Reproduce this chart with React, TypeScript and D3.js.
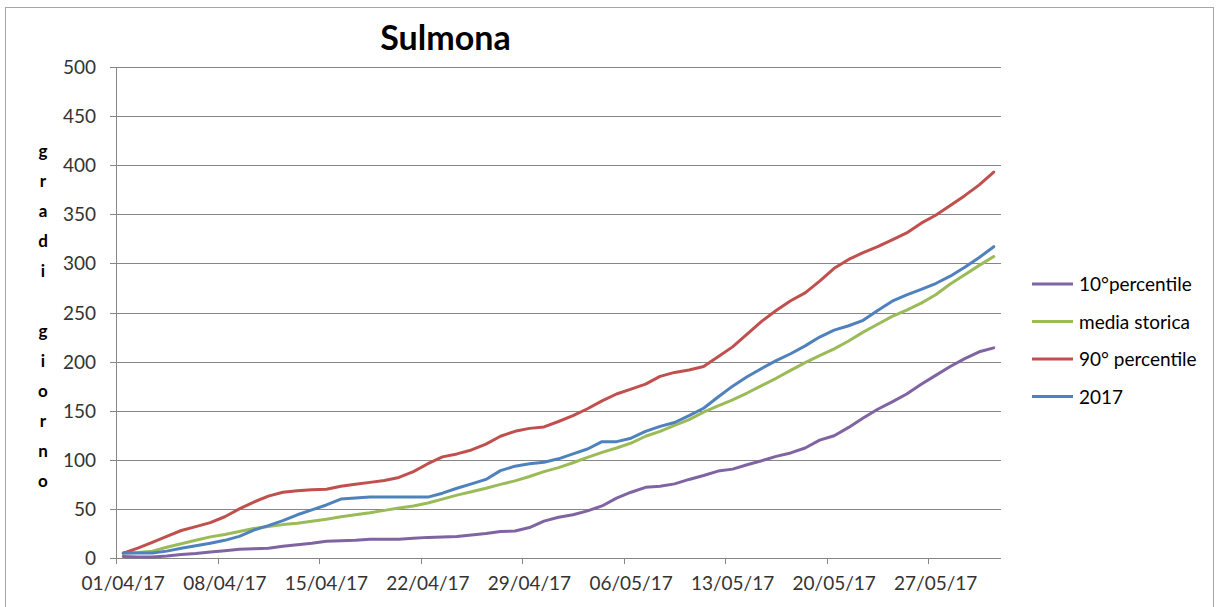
import React from 'react';
import * as d3 from 'd3';

// ---------- data ----------
const startDateUTC = Date.UTC(2017, 3, 1);
const dayCount = 61; // 01/04/17 .. 31/05/17
const tickEvery = 7;
const tickLabels = ['01/04/17', '08/04/17', '15/04/17', '22/04/17', '29/04/17', '06/05/17', '13/05/17', '20/05/17', '27/05/17'];
const yTicks = [0, 50, 100, 150, 200, 250, 300, 350, 400, 450, 500];

const p10 = [1.5, 1, 1, 2, 3.5, 4.5, 6, 7.5, 9, 9.5, 10, 12, 13.5, 15, 17, 17.5, 18, 19, 19, 19, 20, 21, 21.5, 22, 23.5, 25, 27, 27.5, 31, 37.5, 41.5, 44, 48, 53, 61, 67, 72, 73, 75.5, 80, 84, 88.5, 90.5, 95, 99, 103.5, 107, 112, 120, 124.5, 133, 142.5, 151.5, 159, 167, 177, 186, 195, 203, 210, 214];
const media = [5, 5.5, 7, 11, 14.5, 18, 21.5, 24, 27, 30, 32, 34, 35.5, 37.5, 39.5, 42, 44, 46, 48.5, 51, 53, 56, 60, 64, 67.5, 71, 75, 78.5, 83, 88, 92, 97, 102.5, 107.5, 112, 117, 124, 129, 135, 141, 148.5, 155, 161, 168, 175.5, 183, 191, 199, 206, 213, 221, 230, 238, 246, 252.5, 259.5, 268, 279, 288.5, 298, 307];
const p90 = [5, 10, 16, 22, 28, 32, 36, 42, 50, 57, 63, 67, 68.5, 69.5, 70, 73, 75, 77, 79, 82, 88, 96, 103, 106, 110, 116, 124, 129, 132, 133.5, 139, 145, 152, 160, 167, 172, 177, 185, 189, 191.5, 195, 205, 215, 228, 241, 252, 262, 270, 282, 295, 304, 311, 317, 324, 331, 341, 349, 359, 369, 380, 393];
const y2017 = [5, 5, 5, 7, 10, 12.5, 15, 18, 22, 28.5, 33, 38, 44, 49, 54, 60, 61, 62, 62, 62, 62, 62, 66, 71, 75.5, 80, 89, 93.5, 96, 97.5, 101, 106, 111, 118.5, 118.5, 122, 129, 134, 138, 145, 152.5, 164, 175, 184.5, 193, 201, 208, 216, 225, 232, 236.5, 242, 252, 261.5, 268, 273.5, 279.5, 287, 296, 306, 317];

const seriesNames = ['10°percentile', 'media storica', '90° percentile', '2017'];
const seriesValues = [p10, media, p90, y2017];
const seriesColors = ['#8064A2', '#9BBB59', '#C0504D', '#4F81BD'];

const chartTitle = 'Sulmona';
const yAxisTitle = 'gradi giorno';

// ---------- component ----------
export default function App() {
  const W = 1219;
  const H = 607;
  const left = 116;
  const right = 1001;
  const top = 67;
  const bottom = 558;

  const start = new Date(startDateUTC);
  const end = d3.utcDay.offset(start, dayCount);
  const x = d3.scaleUtc().domain([start, end]).range([left, right]);
  const y = d3.scaleLinear().domain([0, 500]).range([bottom, top]);

  const dayCenter = (i: number) => x(d3.utcHour.offset(d3.utcDay.offset(start, i), 12));
  const line = d3.line<number>().x((_, i) => dayCenter(i)).y((v) => y(v));

  const tickIdx = d3.range(0, dayCount, tickEvery);
  const font = 'Lato, "Open Sans", sans-serif';
  const grid = '#868686';
  const letters = yAxisTitle.split('');
  const letterStep = 30;
  const letterMid = (top + bottom) / 2 + 4;

  return (
    <svg width={W} height={H} style={{ position: 'absolute', left: 0, top: 0, background: '#fff' }} fontFamily={font}>
      <rect x={0} y={0} width={W} height={H} fill="#fff" />
      <rect x={5.5} y={7.5} width={1208} height={640} fill="none" stroke="#a6a6a6" strokeWidth={1} />

      <text x={445.5} y={50} textAnchor="middle" fontWeight="bold" fontSize={34} fill="#000">{chartTitle}</text>

      {/* gridlines */}
      {yTicks.map((t) => (
        <g key={t}>
          <line x1={left - 6} x2={right} y1={Math.round(y(t)) + 0.5} y2={Math.round(y(t)) + 0.5} stroke={grid} strokeWidth={1} />
          <text x={96} y={y(t) + 7} textAnchor="end" fontSize={19} fill="#333">{t}</text>
        </g>
      ))}
      {/* y axis */}
      <line x1={left + 0.5} x2={left + 0.5} y1={top} y2={bottom} stroke={grid} strokeWidth={1} />
      {/* x ticks */}
      {tickIdx.map((i, k) => {
        const tx = Math.round(x(d3.utcDay.offset(start, i))) + 0.5;
        return (
          <g key={i}>
            <line x1={tx} x2={tx} y1={bottom} y2={bottom + 6} stroke={grid} strokeWidth={1} />
            <text x={dayCenter(i)} y={590} textAnchor="middle" fontSize={19} fill="#333">{tickLabels[k]}</text>
          </g>
        );
      })}

      {/* y axis title (stacked letters) */}
      {letters.map((c, i) => (
        <text key={i} x={43} y={letterMid + (i - (letters.length - 1) / 2) * letterStep + 5} textAnchor="middle" fontWeight="bold" fontSize={17} fill="#000">{c}</text>
      ))}

      {/* series */}
      {seriesValues.map((vals, s) => (
        <path key={s} d={line(vals) || ''} fill="none" stroke={seriesColors[s]} strokeWidth={3} strokeLinejoin="round" strokeLinecap="round" />
      ))}

      {/* legend */}
      {seriesNames.map((name, s) => {
        const ly = 284 + s * 37.5;
        return (
          <g key={name}>
            <line x1={1032} x2={1073} y1={ly} y2={ly} stroke={seriesColors[s]} strokeWidth={3} />
            <text x={1079} y={ly + 7} fontSize={19} fill="#000">{name}</text>
          </g>
        );
      })}
    </svg>
  );
}
